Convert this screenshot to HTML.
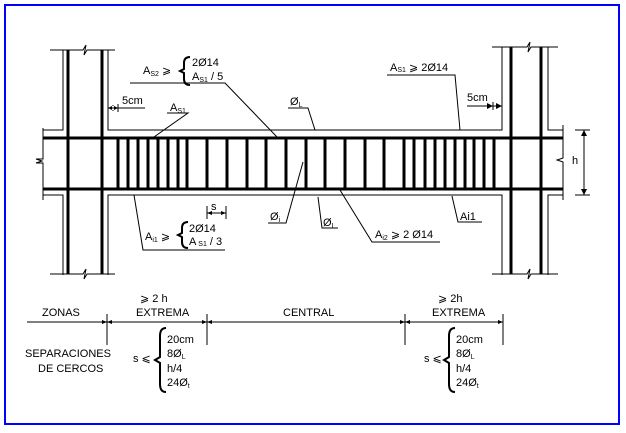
<!DOCTYPE html>
<html><head><meta charset="utf-8"><style>
html,body{margin:0;padding:0;background:#fff;}
svg{display:block;font-family:"Liberation Sans",sans-serif;}
text{font-size:11px;fill:#000;}
.s{font-size:7px;}
</style></head><body>
<svg width="626" height="433" viewBox="0 0 626 433" xmlns="http://www.w3.org/2000/svg">
<rect x="5" y="5" width="614" height="419" fill="#fff" stroke="#0000ff" stroke-width="2"/>
<g stroke="#000" fill="none" stroke-width="1">
<path d="M50 50H83l3-5-2 10 3-5H115"/>
<path d="M50 274H83l3-5-2 10 3-5H115"/>
<path d="M63 50V130H43M63 275V195H43"/>
<path d="M108 50V130H502V47M108 275V195H502V275"/>
<path d="M43 128V159H36l6 2-6 2H43V200"/>
<path d="M492 47H527l3-5-2 10 3-5H558"/>
<path d="M492 274H527l3-5-2 10 3-5H558"/>
<path d="M548 47V130H563M548 275V195H563"/>
<path d="M563 125V158l-6 2 6 2V200"/>
<path d="M575 130H590M575 195H590M584 130V195"/>
<path d="M130 83H225L277 137"/>
<path d="M167 113H188L154 137"/>
<path d="M288 108H308L315 130"/>
<path d="M268 223H286L303 162"/>
<path d="M134 195L143 250H225"/>
<path d="M387 75H455L460 130"/>
<path d="M318 197L322 228H338"/>
<path d="M340 190L372 242H440"/>
<path d="M452 196L458 222H482"/>
<path d="M108 108H145M118 104V112"/>
<path d="M467 106H502M493 102V110"/>
<path d="M207 206V219M226 206V219M207 213H226"/>
<path d="M27 322H503M107 314V345M207 314V345M405 314V345M503 314V345"/>
</g>
<g fill="#000">
<path d="M118 108l-6-3v6zM108 108l6-3v6z"/>
<path d="M493 106l-6-3v6zM502 106l-6-3v6z"/>
<path d="M584 130l-3 6h6zM584 195l-3-6h6z"/>
<path d="M207 213l5-2v4zM226 213l-5-2v4z"/>
<path d="M107 322l-5-2v4zM107 322l5-2v4zM207 322l-5-2v4zM207 322l5-2v4zM405 322l-5-2v4zM405 322l5-2v4zM503 322l-5-2v4z"/>
</g>
<g stroke="#000" stroke-width="3" fill="none">
<path d="M68 50V274M102 50V274M511 47V274M541 47V274"/>
<path d="M43 138H563M43 189H563"/>
<path d="M118 138V189M128 138V189M138 138V189M148 138V189M158 138V189M168 138V189M178 138V189M187 138V189M207 138V189M227 138V189M247 138V189M266 138V189M286 138V189M306 138V189M325 138V189M345 138V189M365 138V189M384 138V189M404 138V189M414 138V189M425 138V189M435 138V189M445 138V189M455 138V189M465 138V189M474 138V189M484 138V189M494 138V189"/>
</g>
<g stroke="#000" stroke-width="2" fill="none">
<path d="M190 57Q184 57 184 63V69L180 71L184 73V79Q184 85 190 85"/>
<path d="M188 222Q182 222 182 228V233L178 235L182 237V242Q182 248 188 248"/>
<path d="M166 328Q160 328 160 336V357L155 360L160 363V384Q160 392 166 392"/>
<path d="M455 328Q449 328 449 336V357L444 360L449 363V384Q449 392 455 392"/>
</g>
<text x="143" y="74">A<tspan class="s" dy="2">S2</tspan><tspan dy="-2"> ⩾</tspan></text>
<text x="192" y="66">2Ø14</text>
<text x="192" y="80">A<tspan class="s" dy="2">S1</tspan><tspan dy="-2"> / 5</tspan></text>
<text x="122" y="104">5cm</text>
<text x="170" y="111">A<tspan class="s" dy="2">S1</tspan></text>
<text x="290" y="105">Ø<tspan class="s" dy="2">L</tspan></text>
<text x="390" y="71">A<tspan class="s" dy="1">S1</tspan><tspan dy="-1"> ⩾ 2Ø14</tspan></text>
<text x="467" y="101">5cm</text>
<text x="572" y="164">h</text>
<text x="211" y="210">s</text>
<text x="270" y="220">Ø<tspan class="s" dy="2">i</tspan></text>
<text x="323" y="226">Ø<tspan class="s" dy="2">L</tspan></text>
<text x="145" y="240">A<tspan class="s" dy="2">i1</tspan><tspan dy="-2"> ⩾</tspan></text>
<text x="189" y="232">2Ø14</text>
<text x="189" y="245">A<tspan class="s" dy="1"> S1</tspan><tspan dy="-1"> / 3</tspan></text>
<text x="375" y="238">A<tspan class="s" dy="2">i2</tspan><tspan dy="-2"> ⩾ 2 Ø14</tspan></text>
<text x="460" y="220">Ai1</text>
<g font-size="10.5">
<text x="42" y="316">ZONAS</text>
<text x="140" y="302">⩾ 2 h</text>
<text x="136" y="316">EXTREMA</text>
<text x="283" y="316">CENTRAL</text>
<text x="438" y="302">⩾ 2h</text>
<text x="432" y="316">EXTREMA</text>
<text x="25" y="357">SEPARACIONES</text>
<text x="38" y="372">DE  CERCOS</text>
<text x="133" y="362">s ⩽</text>
<text x="167" y="343">20cm</text>
<text x="167" y="357">8Ø<tspan class="s" dy="2">L</tspan></text>
<text x="167" y="372">h/4</text>
<text x="167" y="386">24Ø<tspan class="s" dy="2">t</tspan></text>
<text x="424" y="362">s ⩽</text>
<text x="456" y="343">20cm</text>
<text x="456" y="357">8Ø<tspan class="s" dy="2">L</tspan></text>
<text x="456" y="372">h/4</text>
<text x="456" y="386">24Ø<tspan class="s" dy="2">t</tspan></text>
</g>
</svg>
</body></html>
